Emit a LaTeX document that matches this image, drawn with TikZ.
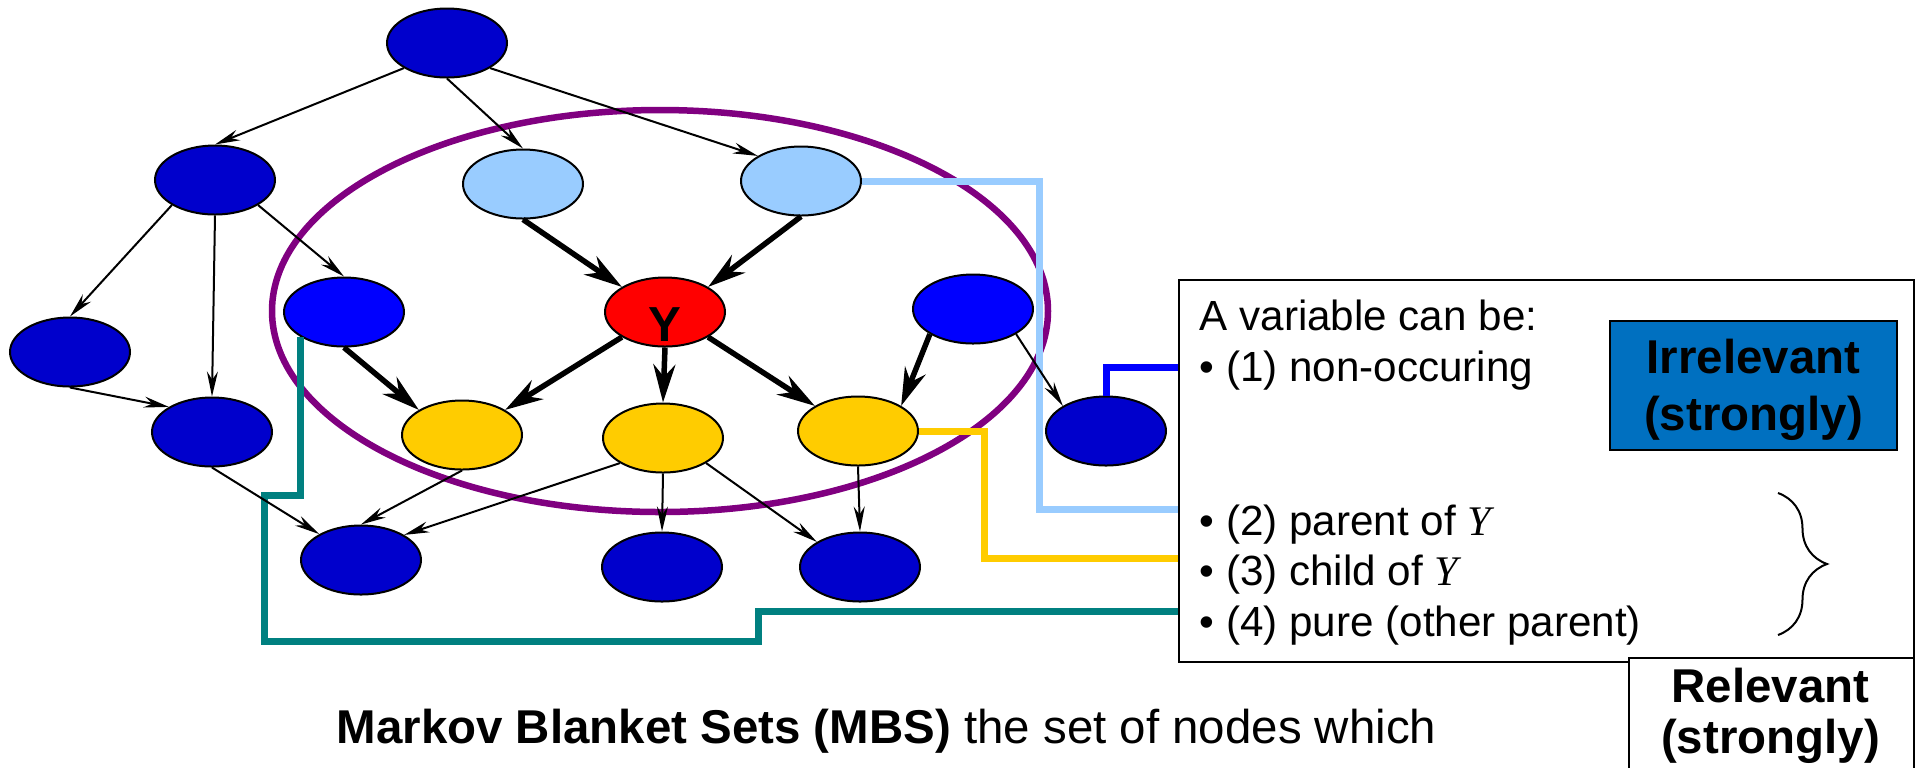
\documentclass[tikz,border=0pt]{standalone}
\usepackage{fontspec}
\setmainfont{Liberation Sans}
\newfontfamily\timesfont{Liberation Serif}
\usetikzlibrary{shapes.geometric,arrows.meta,decorations.pathreplacing}
\definecolor{darkblue}{HTML}{0000CC}
\definecolor{lightblue}{HTML}{99CCFF}
\definecolor{gold}{HTML}{FFCC00}
\definecolor{boxblue}{HTML}{0070C0}
\definecolor{mbpurple}{HTML}{800080}
\definecolor{mbteal}{HTML}{008080}

\begin{document}
\begin{tikzpicture}[
	vertex/.style={ellipse,draw,line width=0.02cm,minimum width=1.2cm,minimum height=0.69cm,inner sep=0pt,fill=darkblue},
	thinarr/.style={line width=0.02cm,-{Stealth[length=0.25cm,width=0.11cm]}},
	thickarr/.style={line width=0.055cm,-{Stealth[length=0.38cm,width=0.22cm]}},
	wire/.style={line width=0.07cm},
	txt/.style={anchor=base west,inner sep=0pt,font=\fontsize{12}{14}\selectfont},
	lbl/.style={anchor=base,inner sep=0pt,font=\fontsize{13.5}{16}\selectfont\bfseries}]
	\useasboundingbox (0,0) rectangle (19.19,-7.67);
	\draw[mbpurple,line width=0.065cm] (6.60,-3.11) ellipse (3.88 and 2.01);
	\node[vertex] (top) at (4.47,-0.43) {};
	\node[vertex] (a) at (2.15,-1.80) {};
	\node[vertex,fill=lightblue] (p1) at (5.23,-1.84) {};
	\node[vertex,fill=lightblue] (p2) at (8.01,-1.81) {};
	\node[vertex] (b) at (0.70,-3.52) {};
	\node[vertex,fill=blue] (s1) at (3.44,-3.12) {};
	\node[vertex,fill=red] (y) at (6.65,-3.12) {};
	\node[font=\fontsize{14}{14}\selectfont\bfseries,inner sep=0pt] (ylab) at (6.65,-3.25) {Y};
	\node[vertex,fill=blue] (s2) at (9.73,-3.09) {};
	\node[vertex] (c) at (2.12,-4.32) {};
	\node[vertex,fill=gold] (ch1) at (4.62,-4.35) {};
	\node[vertex,fill=gold] (ch2) at (6.63,-4.38) {};
	\node[vertex,fill=gold] (ch3) at (8.58,-4.31) {};
	\node[vertex] (d) at (11.06,-4.31) {};
	\node[vertex] (e1) at (3.61,-5.60) {};
	\node[vertex] (e2) at (6.62,-5.67) {};
	\node[vertex] (e3) at (8.60,-5.67) {};

	\node[draw,line width=0.02cm,minimum width=7.35cm,minimum height=3.82cm,inner sep=0pt,anchor=north west] (legend) at (11.78,-2.79) {};
	\coordinate (in1) at (11.78,-3.67);
	\coordinate (in2) at (11.78,-5.09);
	\coordinate (in3) at (11.78,-5.58);
	\coordinate (in4) at (11.78,-6.11);

	\draw[wire,blue] (d.north) |- (in1);
	\draw[wire,lightblue] (p2.east) -| (10.39,-5.09) -- (in2);
	\draw[wire,gold] (ch3.east) -| (9.84,-5.58) -- (in3);
	\draw[wire,mbteal] (s1.south west) |- (2.64,-4.95) |- (7.58,-6.41) |- (in4);

	\draw[thinarr] (top.south west) -- (a.north);
	\draw[thinarr] (top.south) -- (p1.north);
	\draw[thinarr] (top.south east) -- (p2.north west);
	\draw[thinarr] (a.south west) -- (b.north);
	\draw[thinarr] (a.south) -- (c.north);
	\draw[thinarr] (a.south east) -- (s1.north);
	\draw[thinarr] (b.south) -- (c.north west);
	\draw[thinarr] (s2.south east) -- (d.north west);
	\draw[thinarr] (c.south) -- (e1);
	\draw[thinarr] (ch1.south) -- (e1.north);
	\draw[thinarr] (ch2.south west) -- (e1.north east);
	\draw[thinarr] (ch2.south) -- (e2.north);
	\draw[thinarr] (ch2.south east) -- (e3.north west);
	\draw[thinarr] (ch3.south) -- (e3.north);
	\draw[thickarr] (p1.south) -- (y.north west);
	\draw[thickarr] (p2.south) -- (y.north east);
	\draw[thickarr] (y.south west) -- (ch1.north east);
	\draw[thickarr] (y.south) -- (ch2.north);
	\draw[thickarr] (y.south east) -- (ch3.north west);
	\draw[thickarr] (s1.south) -- (ch1.north west);
	\draw[thickarr] (s2.south west) -- (ch3.north east);

	\node[txt] (l0) at (11.99,-3.30) {A variable can be:};
	\node[txt] (l1) at (11.99,-3.81) {• (1) non-occuring};
	\node[txt] (l2) at (11.99,-5.35) {• (2) parent of {\timesfont\itshape Y}};
	\node[txt] (l3) at (11.99,-5.85) {• (3) child of {\timesfont\itshape Y}};
	\node[txt] (l4) at (11.99,-6.36) {• (4) pure (other parent)};
	\draw[line width=0.02cm,decorate,decoration={brace,amplitude=0.49cm}] (17.78,-4.93) -- (17.78,-6.35);

	\node[draw,fill=boxblue,line width=0.02cm,minimum width=2.87cm,minimum height=1.29cm,inner sep=0pt] (irr) at (17.535,-3.855) {};
	\node[lbl] (irr1) at (17.535,-3.73) {Irrelevant};
	\node[lbl] (irr2) at (17.535,-4.30) {(strongly)};
	\node[draw,fill=white,line width=0.02cm,minimum width=2.85cm,minimum height=1.5cm,inner sep=0pt,anchor=north west] (rel) at (16.28,-6.57) {};
	\node[lbl] (rel1) at (17.705,-7.02) {Relevant};
	\node[lbl] (rel2) at (17.705,-7.53) {(strongly)};

	\node[txt,font=\fontsize{13.5}{16}\selectfont] (cap) at (3.36,-7.43) {\textbf{Markov Blanket Sets (MBS)} the set of nodes which};
\end{tikzpicture}
\end{document}
